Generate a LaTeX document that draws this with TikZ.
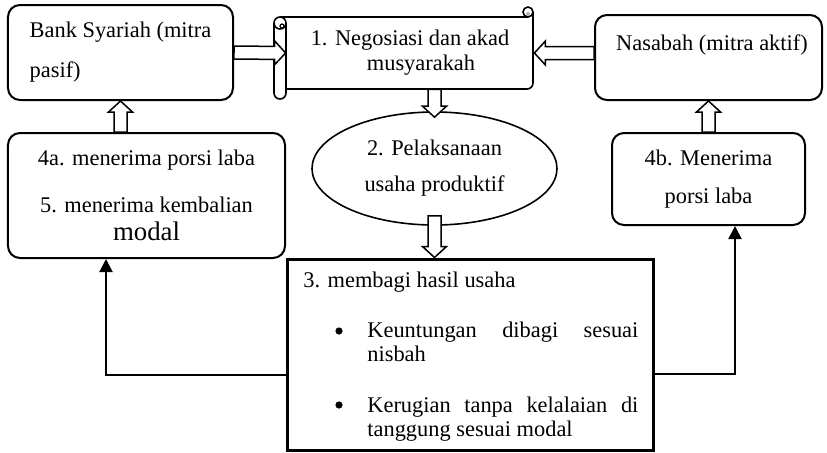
\documentclass[tikz,border=0pt]{standalone}
\usepackage{fontspec}
\setmainfont{Liberation Serif}
\usetikzlibrary{shapes,calc,arrows.meta}
\newcommand\arrw{3.25pt}
\newcommand\arrW{6pt}
\newcommand\arrh{5.5pt}
\tikzstyle{rbox}=[draw,rounded corners=6pt,line width=1pt,inner sep=0pt,align=center]
\tikzstyle{hollow}=[draw,fill=white,line width=.75pt,to path={($(\tikztostart)!\arrw!90:(\tikztotarget)$) -- ($(\tikztotarget)!\arrh!(\tikztostart)!\arrw!90:(\tikztotarget)$) -- ($(\tikztotarget)!\arrh!(\tikztostart)!\arrW!90:(\tikztotarget)$) -- (\tikztotarget) -- ($(\tikztotarget)!\arrh!(\tikztostart)!\arrW!-90:(\tikztotarget)$) -- ($(\tikztotarget)!\arrh!(\tikztostart)!\arrw!-90:(\tikztotarget)$) -- ($(\tikztostart)!\arrw!-90:(\tikztotarget)$) -- cycle}]
\tikzstyle{conn}=[line width=1pt,-{Triangle[length=6.5pt,width=6.5pt]}]
\tikzstyle{item}=[anchor=base west,text width=135.5pt,align=justify,inner sep=0pt,font=\fontsize{11.2}{12}\selectfont]
\tikzstyle{dot}=[circle,fill=black,inner sep=0pt,minimum size=3.6pt]

\begin{document}
\begin{tikzpicture}[x=.5pt,y=-.5pt,font=\fontsize{11.2}{13}\selectfont]
\useasboundingbox (0,0) rectangle (827,452);
\node[rbox,minimum width=112.5pt,minimum height=47.5pt,align=left,font=\fontsize{11.2}{20}\selectfont] (bank) at (120.5,52.5) {Bank Syariah (mitra\\pasif)};
\node[rbox,minimum width=113.5pt,minimum height=42.5pt] (nasabah) at (708.5,57.5) {};
\node[anchor=base] (nasabahtext) at (712,50) {Nasabah (mitra aktif)};
\draw[line width=.8pt] (280,17) -- (528,17);
\draw[line width=.8pt,rounded corners=3pt] (533,12) -- (533,89) -- (286,89);
\draw[line width=.8pt] (286,23) -- (286,93) (274,23) -- (274,93) arc (180:0:6);
\draw[line width=.8pt,fill=white] (280,23) circle (6);
\draw[line width=.6pt] (282,26) circle (2);
\draw[line width=.8pt,fill=white] (528,12) circle (5);
\fill[gray!60] (528,14) circle (2);
\node[minimum width=124pt,minimum height=36pt,inner sep=0pt,align=center,font=\fontsize{11.2}{12.5}\selectfont] (akad) at (410,53) {1. Negosiasi dan akad\\\hspace*{11pt}musyarakah};
\node[rbox,minimum width=138.5pt,minimum height=62.5pt] (laba) at (146.5,195.5) {4a. menerima porsi laba\\[10.5pt]5. menerima kembalian\\[1pt]{\fontsize{13.4}{14}\selectfont modal}};
\node[rbox,minimum width=96.5pt,minimum height=46pt,font=\fontsize{11.2}{19}\selectfont] (porsi) at (708.5,179) {4b. Menerima\\porsi laba};
\node[ellipse,draw,line width=.8pt,minimum width=122.5pt,minimum height=56.5pt,inner sep=0pt,align=center,font=\fontsize{11.2}{18}\selectfont] (usaha) at (434.5,168.5) {2. Pelaksanaan\\usaha produktif};
\node[draw,line width=1.5pt,minimum width=183pt,minimum height=95.5pt,inner sep=0pt] (bagi) at (470,354.5) {};
\node[anchor=base west,inner sep=0pt] (bagihead) at (303,287) {3. membagi hasil usaha};
\node[dot] (dot1) at (339,331) {};
\node[item] (untung) at (367,337) {Keuntungan dibagi sesuai\linebreak nisbah};
\node[dot] (dot2) at (339,405) {};
\node[item] (rugi) at (367,412) {Kerugian tanpa kelalaian di\linebreak tanggung sesuai modal};
\draw[hollow] (bank.east) to (akad.west);
\draw[hollow] (nasabah.west |- akad.east) to (akad.east);
\draw[hollow] (akad.south -| usaha.north) to ([yshift=-3pt]usaha.north);
\draw[hollow] ([yshift=5pt]usaha.south) to (usaha.south |- bagi.north);
\draw[hollow] (laba.north -| bank.south) to (bank.south);
\draw[hollow] (porsi.north) to (porsi.north |- nasabah.south);
\draw[conn] ([yshift=-10.25pt]bagi.west) -| ([xshift=-20.25pt]laba.south);
\draw[conn] ([yshift=-9.5pt]bagi.east) -| ([xshift=13.25pt]porsi.south);
\end{tikzpicture}
\end{document}
